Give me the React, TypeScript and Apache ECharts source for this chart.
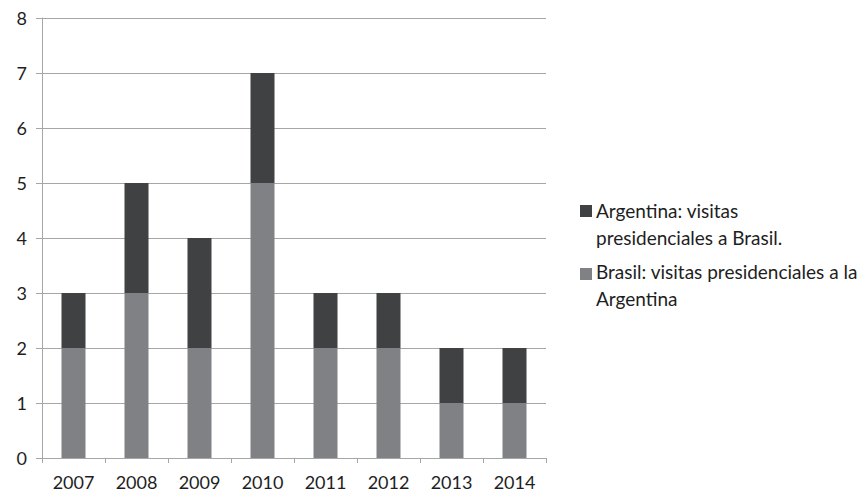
import React, { useEffect, useRef } from "react";
import * as echarts from "echarts";

// Presidential visits per year, stacked by country of origin
const years = ["2007", "2008", "2009", "2010", "2011", "2012", "2013", "2014"];
const brasilVisits = [2, 3, 2, 5, 2, 2, 1, 1];
const argentinaVisits = [1, 2, 2, 2, 1, 1, 1, 1];

const argentinaName = "Argentina: visitas presidenciales a Brasil.";
const brasilName = "Brasil: visitas presidenciales a la Argentina";
const argentinaLegendLines = ["Argentina: visitas", "presidenciales a Brasil."];
const brasilLegendLines = ["Brasil: visitas presidenciales a la", "Argentina"];

const DARK = "#404143";
const LIGHT = "#808184";
const GRID = "#a6a6a6";
const TEXT = "#1e1e1e";
const FONT = "Lato";

export default function App() {
  const ref = useRef<HTMLDivElement>(null);

  useEffect(() => {
    if (!ref.current) return;
    const chart = echarts.init(ref.current, undefined, { renderer: "svg" });

    const legendItem = (color: string, lines: string[], top: number, boxY: number) => ({
      type: "group",
      left: 580,
      top,
      children: [
        { type: "rect", shape: { x: 0, y: boxY, width: 12, height: 12 }, style: { fill: color } },
        {
          type: "text",
          x: 16,
          y: 0,
          style: {
            text: lines.join("\n"),
            font: `19px ${FONT}`,
            lineHeight: 27,
            fill: TEXT,
          },
        },
      ],
    });

    chart.setOption({
      animation: false,
      grid: { left: 42, right: 320, top: 18, bottom: 36 },
      xAxis: {
        type: "category",
        data: years,
        axisLine: { show: true, lineStyle: { color: GRID, width: 1 } },
        axisTick: { show: true, length: 5, lineStyle: { color: GRID } },
        axisLabel: { color: TEXT, fontSize: 18, fontFamily: FONT, margin: 15 },
      },
      yAxis: {
        type: "value",
        min: 0,
        max: 8,
        interval: 1,
        axisLine: { show: true, lineStyle: { color: GRID, width: 1 } },
        axisTick: { show: true, length: 6, lineStyle: { color: GRID } },
        axisLabel: { color: TEXT, fontSize: 18, fontFamily: FONT, margin: 15 },
        splitLine: { show: true, lineStyle: { color: GRID, width: 1 } },
      },
      series: [
        {
          name: brasilName,
          type: "bar",
          stack: "visitas",
          data: brasilVisits,
          barWidth: 24,
          itemStyle: { color: LIGHT },
        },
        {
          name: argentinaName,
          type: "bar",
          stack: "visitas",
          data: argentinaVisits,
          barWidth: 24,
          itemStyle: { color: DARK },
        },
      ],
      graphic: [
        legendItem(DARK, argentinaLegendLines, 197, 8),
        legendItem(LIGHT, brasilLegendLines, 258, 10),
      ],
    });

    return () => chart.dispose();
  }, []);

  return (
    <div
      ref={ref}
      style={{ position: "fixed", left: 0, top: 0, width: 866, height: 494, background: "#fff" }}
    />
  );
}
